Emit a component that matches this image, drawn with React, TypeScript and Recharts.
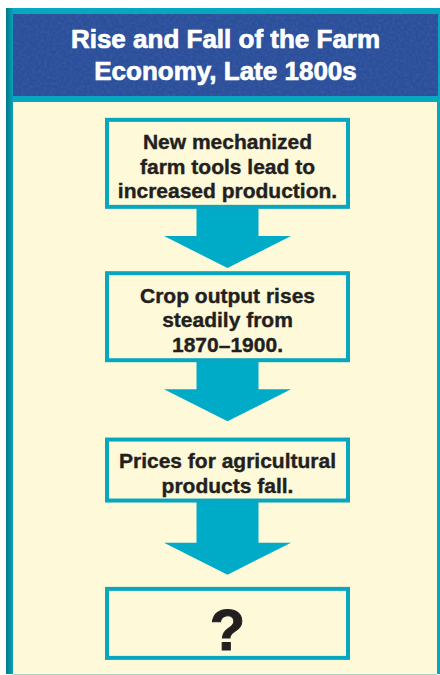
import { ScatterChart, Scatter, XAxis, YAxis } from "recharts";

const titleLines = ["Rise and Fall of the Farm", "Economy, Late 1800s"];

const stepLines = [
  ["New mechanized", "farm tools lead to", "increased production."],
  ["Crop output rises", "steadily from", "1870–1900."],
  ["Prices for agricultural", "products fall."],
  ["?"],
];

const boxes = stepLines.map((lines, i) => ({ x: 0.5, y: i, lines }));
// one arrow between each pair of consecutive steps
const arrows = stepLines.slice(1).map((_, i) => ({ x: 0.5, y: i + 0.5 }));

const TEAL = "#08a7c0";
const ARROW = "#00abc7";
const CREAM = "#fdf9d9";
const INK = "#231f20";
const FONT = "'Liberation Sans', Arial, sans-serif";

function StepBox(props: any) {
  const { cx, cy, payload } = props;
  const lines: string[] = payload.lines;
  const isQuestion = lines.length === 1 && lines[0] === "?";
  const h = isQuestion ? 69 : lines.length * 26 + 9;
  const w = 241;
  return (
    <g>
      <rect
        x={cx - w / 2}
        y={cy - h / 2}
        width={w}
        height={h}
        fill={CREAM}
        stroke={TEAL}
        strokeWidth={4}
      />
      {isQuestion ? (
        <text
          x={cx}
          y={cy + 6}
          textAnchor="middle"
          dominantBaseline="central"
          fontFamily={FONT}
          fontWeight={700}
          fontSize={58}
          fill={INK}
          stroke={INK}
          strokeWidth={1}
        >
          ?
        </text>
      ) : (
        lines.map((t, k) => (
          <text
            key={k}
            x={cx}
            y={cy + (k - (lines.length - 1) / 2) * 24.5 + 3}
            textAnchor="middle"
            dominantBaseline="central"
            fontFamily={FONT}
            fontWeight={700}
            fontSize={21}
            fill={INK}
            stroke={INK}
            strokeWidth={0.4}
          >
            {t}
          </text>
        ))
      )}
    </g>
  );
}

function DownArrow(props: any) {
  const { cx, cy } = props;
  const shaft = 31;
  const head = 63.5;
  const d = [
    `M${cx - shaft},${cy - 50}`,
    `L${cx + shaft},${cy - 50}`,
    `L${cx + shaft},${cy - 4}`,
    `L${cx + head},${cy - 4}`,
    `L${cx},${cy + 28}`,
    `L${cx - head},${cy - 4}`,
    `L${cx - shaft},${cy - 4}`,
    "Z",
  ].join(" ");
  return <path d={d} fill={ARROW} />;
}

export default function App() {
  return (
    <div style={{ position: "absolute", left: 0, top: 0, width: 440, height: 675, background: "#fff" }}>
      {/* outer teal frame */}
      <div
        style={{
          position: "absolute",
          left: 6,
          top: 8,
          width: 434,
          height: 666,
          background: TEAL,
        }}
      />
      <div
        style={{
          position: "absolute",
          left: 6,
          top: 8,
          width: 7,
          height: 666,
          background: "linear-gradient(to right, #00778b, #0aa2ba)",
        }}
      />
      {/* header with a faint paper texture */}
      <div
        style={{
          position: "absolute",
          left: 13,
          top: 14,
          width: 425,
          height: 82,
          background: "#2c4f9b",
          overflow: "hidden",
        }}
      >
        <svg width={425} height={82} style={{ position: "absolute", left: 0, top: 0 }}>
          <filter id="grain">
            <feTurbulence type="fractalNoise" baseFrequency="0.35" numOctaves={2} seed={3} />
            <feColorMatrix
              type="matrix"
              values="0 0 0 0 0.35  0 0 0 0 0.5  0 0 0 0 0.75  0 0 0 0.55 -0.2"
            />
          </filter>
          <rect width={425} height={82} filter="url(#grain)" opacity={0.35} />
        </svg>
        <div
          style={{
            position: "relative",
            color: "#fff",
            fontFamily: FONT,
            fontWeight: 700,
            fontSize: 26,
            lineHeight: "32px",
            textAlign: "center",
            paddingTop: 9,
            WebkitTextStroke: "0.7px #fff",
          }}
        >
          {titleLines.map((t, i) => (
            <div key={i}>{t}</div>
          ))}
        </div>
      </div>
      {/* body */}
      <div
        style={{
          position: "absolute",
          left: 13,
          top: 102,
          width: 424,
          height: 572,
          background: CREAM,
        }}
      >
        <ScatterChart width={424} height={572} margin={{ top: 0, right: 0, bottom: 0, left: 5 }}>
          <XAxis type="number" dataKey="x" domain={[0, 1]} hide />
          <YAxis type="number" dataKey="y" domain={[-0.4, 3.33]} reversed hide />
          <Scatter data={arrows} shape={DownArrow} isAnimationActive={false} />
          <Scatter data={boxes} shape={StepBox} isAnimationActive={false} />
        </ScatterChart>
      </div>
      <div
        style={{
          position: "absolute",
          left: 13,
          top: 674,
          width: 424,
          height: 1,
          background: "#a9d6c8",
        }}
      />
    </div>
  );
}
